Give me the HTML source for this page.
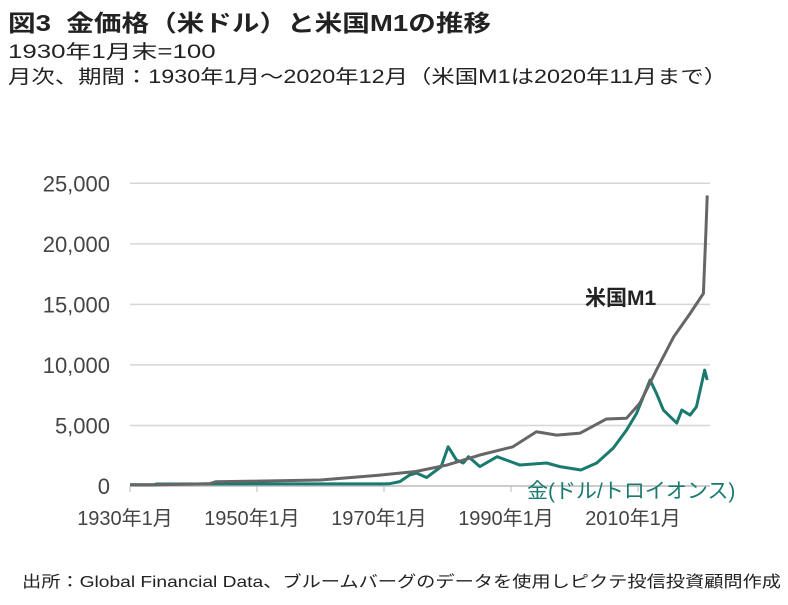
<!DOCTYPE html>
<html><head><meta charset="utf-8"><style>
body{margin:0;background:#fff;width:788px;height:605px;overflow:hidden;font-family:"Liberation Sans","Noto Sans CJK JP",sans-serif;color:#222}
.t{position:absolute;left:8px;white-space:nowrap;transform-origin:0 0}
</style></head><body>
<div class="t" style="top:4px;font-size:23px;font-weight:bold;transform:scaleX(1.2)">図3&nbsp; 金価格（米ドル）と米国M1の推移</div>
<div class="t" style="top:37px;font-size:19px;transform:scaleX(1.36)">1930年1月末=100</div>
<div class="t" style="top:62px;font-size:19px;transform:scaleX(1.23)">月次、期間：1930年1月～2020年12月（米国M1は2020年11月まで）</div>
<svg id="c" width="788" height="605" style="position:absolute;left:0;top:0"></svg>
<div class="t" style="left:22px;top:568px;font-size:16px;transform:scaleX(1.2)">出所：Global Financial Data、ブルームバーグのデータを使用しピクテ投信投資顧問作成</div>
<script>
const yTicks=[0,5000,10000,15000,20000,25000];
const yTickLabels=["0","5,000","10,000","15,000","20,000","25,000"];
const xTicks=[1930,1950,1970,1990,2010];
const xTickLabels=["1930年1月","1950年1月","1970年1月","1990年1月","2010年1月"];
const m1Years=[1930,1933,1940,1942.6,1943.5,1950,1960,1969.4,1975,1979.9,1985.1,1990.3,1994,1997.2,2000.9,2005,2008.2,2010.3,2012.9,2015.6,2018.2,2020.3,2020.7,2020.9];
const m1Values=[100,90,150,200,350,400,500,900,1200,1730,2560,3240,4480,4200,4370,5530,5600,6850,9570,12300,14250,15900,21100,24000];
const goldYears=[1930,1933.9,1934.1,1970,1971,1972.5,1974,1975.1,1976.7,1979,1980.1,1980.4,1981.4,1982.5,1983.3,1985.1,1987.8,1991.4,1995.6,1997.7,2001,2003.5,2006.1,2008.2,2009.8,2011.9,2012.9,2014,2016.1,2016.9,2018.2,2019.2,2020.5,2020.9];
const goldValues=[100,100,170,180,200,360,900,1070,700,1600,3240,3000,2150,1900,2420,1600,2420,1730,1900,1600,1320,1900,3130,4620,6020,8750,7660,6270,5200,6270,5860,6540,9570,8750];
const NS="http://www.w3.org/2000/svg";
const svg=document.getElementById('c');
const X=y=>130+(y-1930)*6.35;
const Y=v=>486-v*(302.7/25000);
function el(t,a){const e=document.createElementNS(NS,t);for(const k in a)e.setAttribute(k,a[k]);svg.appendChild(e);return e;}
yTicks.forEach((v,i)=>{
 const g=el('line',{x1:130,x2:710,y1:Y(v),y2:Y(v),stroke:i==0?'#bbb':'#d6d6d6','stroke-width':1.5});
 
 
 const t=el('text',{x:110,y:Y(v)+8,'text-anchor':'end','font-size':22,fill:'#444'});
 t.textContent=yTickLabels[i];
 
 
});
xTicks.forEach((v,i)=>{
 const k=el('line',{x1:X(v),x2:X(v),y1:486,y2:492,stroke:'#bbb'});
 
 
 const t=el('text',{x:X(v)-5,y:525,'text-anchor':'middle','font-size':20,fill:'#444'});
 t.textContent=xTickLabels[i];
 
 
});
function line(xs,vs,col,name){
 const p=el('polyline',{points:xs.map((x,i)=>X(x)+','+Y(vs[i])).join(' '),fill:'none',stroke:col,'stroke-width':3,'stroke-linejoin':'round'});
 
 
}
line(goldYears,goldValues,'#1a7a70','gold-line');
line(m1Years,m1Values,'#666','m1-line');
const l1=el('text',{x:585,y:305,'font-size':21,fill:'#222','font-weight':'bold'});l1.textContent='米国M1';


const l2=el('text',{x:527,y:498,'font-size':21,fill:'#1a7a70'});l2.textContent='金(ドル/トロイオンス)';


</script>
</body></html>
